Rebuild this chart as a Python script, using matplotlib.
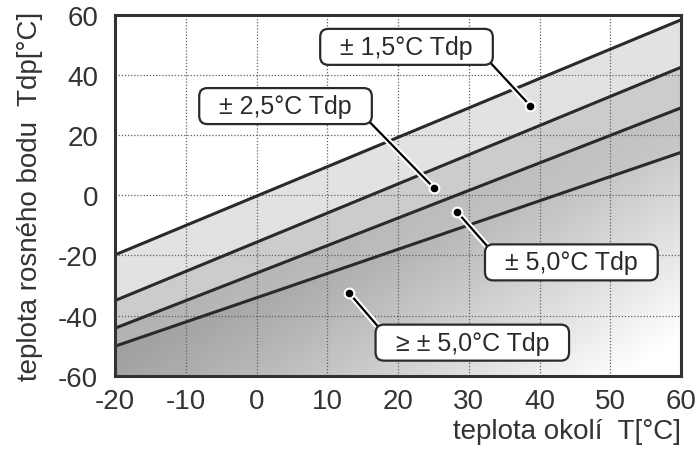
import numpy as np
import matplotlib
matplotlib.use("Agg")
import matplotlib.pyplot as plt
import matplotlib.patheffects as pe

plt.rcParams["font.family"] = ["Liberation Sans", "DejaVu Sans"]
plt.rcParams["axes.unicode_minus"] = False

# boundary lines (x = ambient temperature, y = dew point)
LINE_X = [-20, 60]
LINE_15 = [-19.8, 58.4]
LINE_25 = [-35.0, 42.6]
LINE_50 = [-44.2, 29.1]
LINE_50B = [-50.2, 14.3]

X_TICKS = [-20, -10, 0, 10, 20, 30, 40, 50, 60]
Y_TICKS = [-60, -40, -20, 0, 20, 40, 60]

LABELS = ["± 1,5°C Tdp", "± 2,5°C Tdp", "± 5,0°C Tdp", "≥ ± 5,0°C Tdp"]
DOT_X = [38.7, 25.1, 28.3, 13.1]
DOT_Y = [29.8, 2.4, -5.4, -32.5]

# label box centres and which box corner the leader leaves from
BOX_XY = [(21.2, 49.4), (4.1, 29.7), (44.5, -22.3), (30.5, -49.0)]
BOX_REL = [(1, 0), (1, 0), (0, 1), (0, 1)]

INK = "#2a2a2a"

fig = plt.figure(figsize=(7, 4.52), dpi=100)
ax = fig.add_axes([0.1643, 0.1666, 0.8086, 0.798])
ax.set_xlim(-20, 60)
ax.set_ylim(-60, 60)

# grey shading of the bands, with a light sweep towards the lower right
xg = np.linspace(-20, 60, 700)
yg = np.linspace(-60, 60, 500)
XX, YY = np.meshgrid(xg, yg)
l1 = np.interp(XX, LINE_X, LINE_15)
l2 = np.interp(XX, LINE_X, LINE_25)
l3 = np.interp(XX, LINE_X, LINE_50)
l4 = np.interp(XX, LINE_X, LINE_50B)
xn = (XX + 20) / 80
yn = (YY + 60) / 120
u = np.clip(xn - 0.9 * yn + 0.1, 0, 1)
gray = np.ones_like(XX)
gray = np.where(YY < l1, 0.885, gray)
gray = np.where(YY < l2, 0.80, gray)
gray = np.where(YY < l3, 0.70 + 0.30 * 0.5 * u, gray)
gray = np.where(YY < l4, 0.62 + 0.38 * u ** 1.2, gray)
ax.imshow(gray, cmap="gray", vmin=0, vmax=1, origin="lower",
          extent=(-20, 60, -60, 60), aspect="auto", zorder=0,
          interpolation="bilinear")

ax.grid(True, color="#606060", lw=0.9, ls=(0, (1, 1.5)))

for ys in (LINE_15, LINE_25, LINE_50, LINE_50B):
    ax.plot(LINE_X, ys, color=INK, lw=2.2, zorder=3, solid_capstyle="butt")

halo = [pe.Stroke(linewidth=4.5, foreground="white"), pe.Normal()]
for lab, dx, dy, bxy, rel in zip(LABELS, DOT_X, DOT_Y, BOX_XY, BOX_REL):
    ax.annotate("  " + lab + "  ", xy=(dx, dy), xytext=bxy,
                ha="center", va="center", fontsize=18, color=INK, zorder=6,
                bbox=dict(boxstyle="round,pad=0.24,rounding_size=0.33",
                          fc="white", ec=INK, lw=1.6),
                arrowprops=dict(arrowstyle="-", color="black", lw=1.6,
                                relpos=rel, shrinkA=0, shrinkB=0,
                                path_effects=halo))
    ax.plot(dx, dy, "o", ms=7, mfc="black", mec="white", mew=1.5, zorder=7)

ax.set_xticks(X_TICKS)
ax.set_yticks(Y_TICKS)
ax.tick_params(length=0, labelsize=20, colors="#333333")
ax.tick_params(axis="y", pad=12)
ax.tick_params(axis="x", pad=9)
for s in ax.spines.values():
    s.set_linewidth(2.2)
    s.set_color("#333333")
    s.set_zorder(8)

ax.set_xlabel("teplota okolí  T[°C]", fontsize=20, color="#333333",
              loc="right", labelpad=3)
ax.set_ylabel("teplota rosného bodu  Tdp[°C]", fontsize=20, color="#333333",
              labelpad=11)

fig.savefig("out.png", dpi=100)
